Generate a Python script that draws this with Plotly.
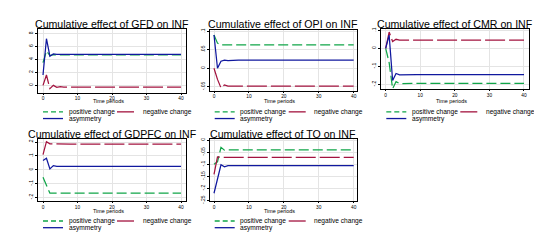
import plotly.graph_objects as go

W, H = 542, 240

# ---------------- data ----------------
periods = list(range(41))

titles = ["Cumulative effect of GFD on INF", "Cumulative effect of OPI on INF",
          "Cumulative effect of CMR on INF", "Cumulative effect of GDPFC on INF",
          "Cumulative effect of TO on INF"]

gfd_pos = [3.5, 5.3, 4.6, 4.75, 4.7] + [4.7] * 36
gfd_neg = [0.0, 1.6, -0.5, 0.0, -0.3, -0.2] + [-0.25] * 35
gfd_asym = [1.6, 7.2, 4.5, 4.85, 4.8] + [4.8] * 36

opi_pos = [0.09, 0.068, 0.063, 0.063] + [0.063] * 37
opi_neg = [0.0, -0.03, -0.053, -0.045, -0.048] + [-0.048] * 36
opi_asym = [0.09, 0.0, 0.019, 0.022, 0.021] + [0.022] * 36

cmr_pos = [0.0, -0.08, -0.225, -0.185, -0.196] + [-0.195] * 36
cmr_neg = [0.0, 0.09, 0.037, 0.05, 0.045] + [0.045] * 36
cmr_asym = [0.0, 0.073, -0.179, -0.14, -0.147] + [-0.146] * 36

gdp_pos = [-0.055, -0.12, -0.17, -0.17] + [-0.17] * 37
gdp_neg = [0.11, 0.204, 0.188, 0.187] + [0.187] * 37
gdp_asym = [0.068, 0.084, 0.006, 0.03, 0.025] + [0.025] * 36

to_pos = [-0.1, -0.09, -0.03, -0.042, -0.041] + [-0.041] * 36
to_neg = [-0.142, -0.07, -0.071, -0.072] + [-0.072] * 37
to_asym = [-0.22, -0.16, -0.102, -0.111, -0.106] + [-0.106] * 36

series = [(gfd_pos, gfd_neg, gfd_asym), (opi_pos, opi_neg, opi_asym),
          (cmr_pos, cmr_neg, cmr_asym), (gdp_pos, gdp_neg, gdp_asym),
          (to_pos, to_neg, to_asym)]

x_ticks = [0, 10, 20, 30, 40]
y_ticks = [[0, 2, 4, 6, 8],
           [-0.05, 0, 0.05, 0.1],
           [-0.2, -0.1, 0, 0.1],
           [-0.2, -0.1, 0, 0.1, 0.2],
           [-0.25, -0.2, -0.15, -0.1, -0.05, 0]]
y_tick_text = [["0", "2", "4", "6", "8"],
               ["-.05", "0", ".05", ".1"],
               ["-.2", "-.1", "0", ".1"],
               ["-.2", "-.1", "0", ".1", ".2"],
               ["-.25", "-.2", "-.15", "-.1", "-.05", "0"]]
legend_labels = ["positive change", "negative change", "asymmetry"]

# ---------------- layout helpers ----------------
def px(x):
    return x / W

def py(y):
    return 1 - y / H

# panel boxes in pixels: (left, right, top, bottom)
boxes = [(30, 178, 20.5, 85), (201.7, 349, 21, 83), (373.3, 521, 20, 81.7),
         (30, 178, 131.7, 195), (201.7, 349, 131.7, 195)]
x_ranges = [[-1.45, 41.45], [-1.23, 40.95], [-1.27, 41.45], [-1.45, 41.45], [-1.23, 40.95]]
y_ranges = [[-1.11, 8.67], [-0.0604, 0.1045], [-0.228, 0.109], [-0.225, 0.227], [-0.251, 0.0065]]
title_y = [15.3, 15.3, 15.3, 127, 127]
tp_y = [94.0, 94.0, 94.0, 205.2, 205.2]
leg_y = [(104.6, 111.4), (104.6, 111.4), (104.6, 111.4), (215.6, 222.4), (215.6, 222.4)]

GREEN = "#10a548"
RED = "#a3133f"
BLUE = "#10189e"
FONT = "Liberation Sans, Arial, sans-serif"

fig = go.Figure()
annotations = []
shapes = []

for i in range(5):
    n = "" if i == 0 else str(i + 1)
    pos, neg, asym = series[i]
    for vals, col, dash in [(pos, GREEN, "10px,4px"), (neg, RED, "20px,4px"), (asym, BLUE, "solid")]:
        fig.add_trace(go.Scatter(x=periods, y=vals, mode="lines",
                                 line=dict(color=col, width=1.25, dash=dash),
                                 xaxis="x" + n, yaxis="y" + n, showlegend=False,
                                 hoverinfo="skip"))
    L, R, T, B = boxes[i]
    fig.layout["xaxis" + n] = dict(
        domain=[px(L), px(R)], range=x_ranges[i], anchor="y" + n,
        tickvals=x_ticks, ticks="outside", ticklen=1, tickwidth=0.8, tickcolor="black",
        tickfont=dict(size=4.8, family=FONT, color="black"),
        showgrid=True, gridcolor="#e4e4e4", gridwidth=0.8,
        showline=True, linecolor="black", linewidth=1, mirror=True, zeroline=False)
    fig.layout["yaxis" + n] = dict(
        domain=[py(B), py(T)], range=y_ranges[i], anchor="x" + n,
        tickvals=y_ticks[i], ticktext=y_tick_text[i], tickangle=-90,
        ticks="outside", ticklen=2, tickwidth=0.8, tickcolor="black",
        tickfont=dict(size=5, family=FONT, color="black"),
        showgrid=True, gridcolor="#e4e4e4", gridwidth=0.8,
        showline=True, linecolor="black", linewidth=1, mirror=True, zeroline=False)

    cx = (L + R) / 2
    annotations.append(dict(text=titles[i], x=px(cx), y=py(title_y[i]), xref="paper", yref="paper",
                            showarrow=False, xanchor="center", yanchor="middle", borderpad=0,
                            font=dict(size=10.6, family=FONT, color="black")))
    annotations.append(dict(text="Time periods", x=px(cx - 4), y=py(tp_y[i]), xref="paper", yref="paper",
                            showarrow=False, xanchor="center", yanchor="middle", borderpad=0,
                            font=dict(size=5.4, family=FONT, color="black")))
    # legend
    r1, r2 = leg_y[i]
    items = [(L + 5, L + 25, r1, GREEN, "5px,3px", legend_labels[0], L + 29.5),
             (L + 79, L + 96, r1, RED, "solid", legend_labels[1], L + 103.5),
             (L + 5, L + 25, r2, BLUE, "solid", legend_labels[2], L + 29.5)]
    for x0, x1, yy, col, dash, lab, tx in items:
        shapes.append(dict(type="line", xref="paper", yref="paper",
                           x0=px(x0), x1=px(x1), y0=py(yy), y1=py(yy),
                           line=dict(color=col, width=1.3, dash=dash)))
        annotations.append(dict(text=lab, x=px(tx), y=py(yy), xref="paper", yref="paper",
                                showarrow=False, xanchor="left", yanchor="middle", borderpad=0,
                                font=dict(size=6.6, family=FONT, color="black")))

fig.update_layout(width=W, height=H, margin=dict(l=0, r=0, t=0, b=0),
                  paper_bgcolor="white", plot_bgcolor="white",
                  annotations=annotations, shapes=shapes, showlegend=False)

fig.write_html("out.html")
